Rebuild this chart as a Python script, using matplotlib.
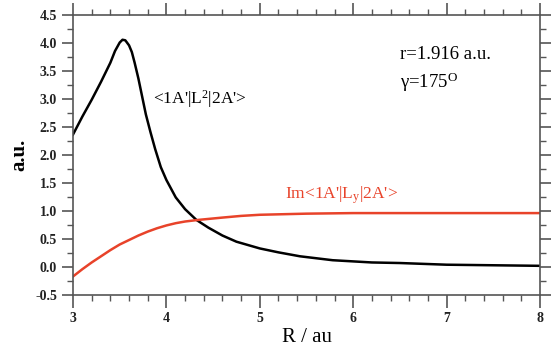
import numpy as np
import matplotlib
matplotlib.use('Agg')
import matplotlib.pyplot as plt
from matplotlib.ticker import MultipleLocator, FormatStrFormatter

plt.rcParams['font.family'] = ['Liberation Serif', 'DejaVu Serif']
plt.rcParams['mathtext.fontset'] = 'custom'
plt.rcParams['mathtext.rm'] = 'Liberation Serif'
plt.rcParams['mathtext.it'] = 'Liberation Serif:italic'

# black curve <1A'|L^2|2A'>
R_L2 = [3.0, 3.1, 3.2, 3.3, 3.4, 3.45, 3.5, 3.53, 3.56, 3.6, 3.63, 3.66, 3.70,
        3.74, 3.78, 3.83, 3.88, 3.94, 4.0, 4.1, 4.2, 4.32, 4.45, 4.6, 4.75,
        5.0, 5.2, 5.43, 5.78, 6.2, 6.5, 7.0, 7.5, 8.0]
L2 = [2.36, 2.68, 2.98, 3.30, 3.64, 3.85, 4.00, 4.05, 4.04, 3.95, 3.83, 3.64, 3.36,
      3.04, 2.72, 2.40, 2.10, 1.78, 1.55, 1.24, 1.03, 0.84, 0.70, 0.56, 0.45,
      0.33, 0.26, 0.19, 0.12, 0.08, 0.07, 0.04, 0.03, 0.02]

# red curve Im<1A'|Ly|2A'>
R_Ly = [3.0, 3.1, 3.2, 3.3, 3.4, 3.5, 3.6, 3.7, 3.8, 3.9, 4.0, 4.1, 4.2, 4.35, 4.6,
        4.8, 5.0, 5.5, 6.0, 7.0, 8.0]
Ly = [-0.17, -0.04, 0.08, 0.19, 0.30, 0.40, 0.48, 0.56, 0.63, 0.69, 0.74, 0.78, 0.81,
      0.84, 0.88, 0.91, 0.93, 0.95, 0.96, 0.96, 0.96]

fig = plt.figure(figsize=(5.58, 3.48), dpi=100)
ax = fig.add_axes([73 / 558, 1 - 295 / 348, 467 / 558, 280.5 / 348])

ax.plot(R_L2, L2, color='black', lw=1.8, solid_joinstyle='round')
ax.plot(R_Ly, Ly, color='#e8432a', lw=1.8, solid_joinstyle='round')

ax.set_xlim(3, 8)
ax.set_ylim(-0.5, 4.5)
ax.xaxis.set_major_locator(MultipleLocator(1))
ax.xaxis.set_minor_locator(MultipleLocator(0.2))
ax.yaxis.set_major_locator(MultipleLocator(0.5))
ax.yaxis.set_minor_locator(MultipleLocator(0.25))

gray = '#555555'
for s in ax.spines.values():
    s.set_color(gray)
    s.set_linewidth(1.2)
ax.tick_params(which='both', direction='out', colors=gray, top=True, right=True,
               labelcolor='#222222')
ax.tick_params(which='major', length=8, width=1.2, labelsize=10)
ax.tick_params(which='minor', length=4, width=1.0)
ax.tick_params(axis='x', which='major', top=True, length=9)
for lab in ax.get_xticklabels() + ax.get_yticklabels():
    lab.set_fontweight('bold')
ax.xaxis.set_major_formatter(FormatStrFormatter('%d'))
ax.yaxis.set_major_formatter(FormatStrFormatter('%.1f'))

ax.set_xlabel('R / au', fontsize=15, labelpad=2)
ax.set_ylabel('a.u.', fontsize=15, fontweight='bold', labelpad=4)

ax.text(3.86, 3.0, "<1A'|L$^2$|2A'>", fontsize=12.5, va='center', ha='left')
ax.text(5.27, 1.28, "Im<1A'|L$_{\\rm y}$|2A'>", fontsize=12.5, va='center', ha='left',
        color='#e8432a')
ax.text(6.5, 3.78, 'r=1.916 a.u.', fontsize=13.5, va='center', ha='left')
ax.text(6.5, 3.30, '\u03b3=175$^{\\rm O}$', fontsize=13.5, va='center', ha='left')

fig.savefig('out.png', dpi=100)
